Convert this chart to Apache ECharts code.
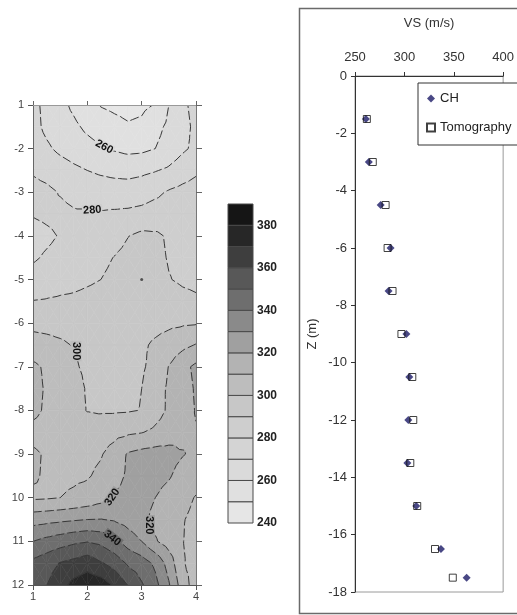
<!DOCTYPE html>
<html><head><meta charset="utf-8">
<script src="https://cdn.jsdelivr.net/npm/echarts@6/dist/echarts.min.js"></script>
<style>html,body{margin:0;padding:0;background:#fff}#c{width:517px;height:615px}</style>
</head><body><div id="c"></div>
<script>
// ---------- contour map data (VS in m/s on an x / depth grid) ----------
const gridX = [1, 1.25, 1.5, 1.75, 2, 2.25, 2.5, 2.75, 3, 3.25, 3.5, 3.75, 4];
const gridY = [-1, -1.5, -2, -2.5, -3, -3.5, -4, -4.5, -5, -5.5, -6, -6.5, -7, -7.5, -8, -8.5, -9, -9.5, -10, -10.5, -11, -11.5, -12];
const vsGrid = [
 [272, 268, 263, 258, 253, 249.5, 248, 247, 248, 250.5, 260, 268, 273],
 [273, 268, 265, 262, 258, 255, 253, 251, 252, 257, 262, 267, 272],
 [275, 271.5, 268, 265.5, 263.5, 261, 259, 257.5, 258, 260, 264, 268.5, 272],
 [279, 277, 274.5, 272, 270, 268.5, 267.5, 267, 268, 269.5, 271.5, 275, 278.5],
 [283, 282, 279.5, 277.5, 276, 275, 274.5, 274.5, 275.5, 278, 281, 283, 284],
 [280.5, 281.5, 282, 281, 281, 281, 281.5, 282, 283, 284.5, 285, 286, 287],
 [277, 278.5, 280.5, 282, 283, 284.5, 286.5, 289.8, 292, 291.5, 289, 288, 288],
 [279, 281, 282.5, 284, 286, 288, 290.3, 292.5, 293.5, 292, 289.5, 288.5, 288.5],
 [283, 284.5, 286, 287, 288.5, 290, 292, 293.5, 294, 293, 290.3, 289, 288.5],
 [290.3, 290.8, 291.5, 292, 293, 294, 294.5, 295, 295, 294.5, 293.5, 292, 291],
 [297.5, 297, 296.5, 296, 295.5, 295.5, 295.5, 295.5, 296, 297, 298, 298.8, 299.3],
 [304, 303, 301.5, 299.5, 298, 297, 296.5, 297, 298.5, 301.5, 304.5, 307.5, 310.5],
 [312, 308.5, 305, 301, 298.5, 297.5, 297, 297.5, 298.8, 303, 310.3, 317, 322],
 [313, 309, 306.5, 303, 299.3, 297.5, 297, 298, 300, 305.5, 311.5, 316, 321],
 [312.5, 308.5, 305.5, 302.5, 299.7, 299, 299, 299.3, 300.3, 306, 311.5, 316, 320.5],
 [307, 306, 305, 304.5, 304.5, 305.5, 307, 308.5, 309.6, 312, 315, 317.5, 319.5],
 [311.5, 309, 307.5, 307, 307.5, 309.3, 314, 321, 323, 324, 323.5, 320.6, 318],
 [311, 309, 308, 308.5, 309.2, 312, 316.5, 321.5, 323.5, 323.5, 321, 316, 313.5],
 [308.5, 309, 310, 311.5, 313.5, 316.5, 321, 323, 323, 320, 316, 312.5, 309.5],
 [326, 327, 328, 329, 330, 330.3, 329, 326, 322.5, 317.5, 314, 310.5, 308],
 [340, 343, 345.5, 348, 349.5, 347.5, 342.5, 335.5, 330, 321, 315.5, 310.3, 307],
 [352.5, 356, 360.5, 363, 366, 361, 356, 348.5, 345, 338, 326, 311, 306],
 [355, 359.8, 366, 373, 376, 375, 368.5, 359.5, 351, 343, 331, 315, 305]
];
const levels = [240, 250, 260, 270, 280, 290, 300, 310, 320, 330, 340, 350, 360, 370, 380, 390];
const bandColors = ['#e6e6e6','#e0e0e0','#dadada','#d4d4d4','#cecece','#c7c7c7','#bdbdbd','#b3b3b3','#a0a0a0','#8a8a8a','#6e6e6e','#585858','#3e3e3e','#272727','#151515'];
const yTickValues = [-1, -2, -3, -4, -5, -6, -7, -8, -9, -10, -11, -12];
const yTickText = ['1', '-2', '-3', '-4', '-5', '-6', '-7', '-8', '-9', '10', '11', '12'];
// contour labels: level, x, depth, rotation (deg)
const labelLevel = [260, 280, 300, 320, 320, 340];
const labelX = [2.31, 2.09, 1.79, 2.46, 3.14, 2.46];
const labelY = [-1.96, -3.41, -6.64, -9.99, -10.63, -10.93];
const labelRot = [-28, 4, -90, 55, -90, -38];
const sampleDot = [[3, -5]];

// ---------- profile data ----------
const depth = [-1.5, -3, -4.5, -6, -7.5, -9, -10.5, -12, -13.5, -15, -16.5, -17.5];
const vsCH = [261, 264, 276, 286, 284, 302, 305, 304, 303, 312, 337, 363];
const vsTomo = [262, 268, 281, 283, 288, 297, 308, 309, 306, 313, 331, 349];

// ---------- contouring (triangulated grid) ----------
const nx = gridX.length, ny = gridY.length;
const pts = [];
for (let j = 0; j < ny; j++) for (let i = 0; i < nx; i++) pts.push([gridX[i], gridY[j], vsGrid[j][i]]);
const tris = [];
for (let j = 0; j < ny - 1; j++) for (let i = 0; i < nx - 1; i++) {
  const a = j * nx + i, b = a + 1, d = a + nx, c = d + 1;
  const m = pts.length;
  pts.push([(gridX[i] + gridX[i + 1]) / 2, (gridY[j] + gridY[j + 1]) / 2,
    (pts[a][2] + pts[b][2] + pts[c][2] + pts[d][2]) / 4]);
  tris.push([a, b, m], [b, c, m], [c, d, m], [d, a, m]);
}
function lerpPt(p, q, L) { const t = (L - p[2]) / (q[2] - p[2]); return [p[0] + t * (q[0] - p[0]), p[1] + t * (q[1] - p[1]), L]; }
function clipPoly(poly, L, above) {
  const out = [], n = poly.length;
  for (let k = 0; k < n; k++) {
    const cur = poly[k], prev = poly[(k + n - 1) % n];
    const ci = above ? cur[2] >= L : cur[2] <= L;
    const pi = above ? prev[2] >= L : prev[2] <= L;
    if (ci) { if (!pi) out.push(lerpPt(prev, cur, L)); out.push(cur); }
    else if (pi) out.push(lerpPt(prev, cur, L));
  }
  return out;
}
const bandPolys = [];
tris.forEach(t => {
  const tri = t.map(k => pts[k]);
  const vals = tri.map(p => p[2]);
  const vmin = Math.min(...vals), vmax = Math.max(...vals);
  for (let b = 0; b < levels.length - 1; b++) {
    const lo = levels[b], hi = levels[b + 1];
    if (vmax < lo || vmin > hi) continue;
    let poly = clipPoly(tri, lo, true); if (poly.length < 3) continue;
    poly = clipPoly(poly, hi, false); if (poly.length < 3) continue;
    bandPolys.push({ band: b, pts: poly });
  }
});
const contourPaths = [];
levels.slice(1, -1).forEach(L => {
  const segs = [];
  tris.forEach(t => {
    const cr = [];
    for (let e = 0; e < 3; e++) {
      const ia = t[e], ib = t[(e + 1) % 3];
      const p = pts[ia], q = pts[ib];
      if ((p[2] >= L) !== (q[2] >= L)) cr.push({ key: Math.min(ia, ib) + '_' + Math.max(ia, ib), pt: lerpPt(p, q, L) });
    }
    if (cr.length === 2) segs.push(cr);
  });
  const byKey = {};
  segs.forEach((s, idx) => s.forEach(c => { (byKey[c.key] = byKey[c.key] || []).push(idx); }));
  const used = new Array(segs.length).fill(false);
  function extend(line, key) {
    let k = key;
    for (;;) {
      const cand = (byKey[k] || []).filter(i => !used[i]);
      if (!cand.length) break;
      const si = cand[0]; used[si] = true;
      const s = segs[si];
      const other = s[0].key === k ? s[1] : s[0];
      line.push(other.pt); k = other.key;
    }
  }
  for (let i = 0; i < segs.length; i++) {
    if (used[i]) continue;
    used[i] = true;
    const s = segs[i];
    const fwd = [s[0].pt, s[1].pt]; extend(fwd, s[1].key);
    const back = []; extend(back, s[0].key);
    contourPaths.push({ level: L, pts: back.reverse().concat(fwd) });
  }
});

const FONT = 'Liberation Sans, Arial, sans-serif';
const chart = echarts.init(document.getElementById('c'), null, { renderer: 'canvas' });
chart.setOption({
  animation: false,
  backgroundColor: '#fff',
  textStyle: { fontFamily: FONT },
  grid: [
    { left: 33, top: 105, width: 163, height: 480 },
    { left: 228, top: 204, width: 25, height: 319 },
    { left: 355, top: 76, width: 153, height: 516, show: true, borderColor: '#9a9a9a', borderWidth: 1, backgroundColor: 'transparent' }
  ],
  xAxis: [
    { gridIndex: 0, type: 'value', min: 1, max: 4, interval: 1, position: 'bottom', z: 10,
      axisLine: { onZero: false, lineStyle: { color: '#555' } },
      axisTick: { length: 5, lineStyle: { color: '#555' } },
      axisLabel: { fontSize: 11, color: '#444', margin: 6 }, splitLine: { show: false } },
    { gridIndex: 0, type: 'value', min: 1, max: 4, interval: 1, position: 'top', z: 10,
      axisLine: { onZero: false, lineStyle: { color: '#999' } },
      axisTick: { length: 4, lineStyle: { color: '#666' } },
      axisLabel: { show: false }, splitLine: { show: false } },
    { gridIndex: 1, type: 'value', min: 0, max: 1, show: false },
    { gridIndex: 2, type: 'value', min: 250, max: 400, interval: 50, position: 'top', z: 10,
      name: 'VS (m/s)', nameLocation: 'middle', nameGap: 46,
      nameTextStyle: { fontSize: 13, color: '#333', fontFamily: FONT },
      axisLine: { onZero: false, lineStyle: { color: '#333' } },
      axisTick: { length: 4, lineStyle: { color: '#333' } },
      axisLabel: { fontSize: 13, color: '#333', margin: 12 }, splitLine: { show: false } }
  ],
  yAxis: [
    { gridIndex: 0, type: 'value', min: -12, max: -1, interval: 1, position: 'left', z: 10,
      axisLine: { onZero: false, lineStyle: { color: '#666' } },
      axisTick: { length: 5, lineStyle: { color: '#555' } },
      axisLabel: { fontSize: 11, color: '#444', margin: 9,
        formatter: v => { const k = yTickValues.indexOf(v); return k < 0 ? '' : yTickText[k]; } },
      splitLine: { show: false } },
    { gridIndex: 0, type: 'value', min: -12, max: -1, interval: 1, position: 'right', z: 10,
      axisLine: { onZero: false, lineStyle: { color: '#777' } },
      axisTick: { length: 6, lineStyle: { color: '#666' } },
      axisLabel: { show: false }, splitLine: { show: false } },
    { gridIndex: 1, type: 'value', min: 240, max: 390, interval: 20, position: 'right',
      axisLine: { show: false }, axisTick: { show: false }, splitLine: { show: false },
      axisLabel: { fontSize: 12, fontWeight: 'bold', color: '#222', margin: 4,
        formatter: v => (v > 380 ? '' : String(v)) } },
    { gridIndex: 2, type: 'value', min: -18, max: 0, interval: 2, position: 'left', z: 10,
      name: 'Z (m)', nameLocation: 'middle', nameGap: 36,
      nameTextStyle: { fontSize: 13, color: '#333', fontFamily: FONT },
      axisLine: { onZero: false, lineStyle: { color: '#333' } },
      axisTick: { length: 4, lineStyle: { color: '#333' } },
      axisLabel: { fontSize: 13, color: '#333', margin: 8 }, splitLine: { show: false } }
  ],
  legend: {
    left: 418, top: 83, orient: 'vertical', itemWidth: 8, itemHeight: 8, itemGap: 16,
    padding: [9, 8, 11, 8], borderColor: '#333', borderWidth: 1, backgroundColor: '#fff',
    textStyle: { fontSize: 13, color: '#222', fontFamily: FONT },
    data: [{ name: 'CH', icon: 'diamond' }, { name: 'Tomography', icon: 'rect' }]
  },
  graphic: [
    { type: 'rect', silent: true, z: 100, shape: { x: 299.5, y: 8.5, width: 240, height: 605 },
      style: { fill: null, stroke: '#6a6a6a', lineWidth: 1.5 } }
  ],
  series: [
    { type: 'custom', name: 'fill', xAxisIndex: 0, yAxisIndex: 0, silent: true, clip: true, z: 1,
      encode: { x: 0, y: 1 },
      data: bandPolys.map((p, k) => [p.pts[0][0], p.pts[0][1], k]),
      renderItem: (params, api) => {
        const bp = bandPolys[api.value(2)];
        const c = bandColors[bp.band];
        return { type: 'polygon', shape: { points: bp.pts.map(p => api.coord([p[0], p[1]])) },
          style: { fill: c, stroke: c, lineWidth: 0.6 } };
      } },
    { type: 'custom', name: 'lines', xAxisIndex: 0, yAxisIndex: 0, silent: true, clip: true, z: 2,
      encode: { x: 0, y: 1 },
      data: contourPaths.map((c, k) => [c.pts[0][0], c.pts[0][1], k]),
      renderItem: (params, api) => {
        const cp = contourPaths[api.value(2)];
        return { type: 'polyline', shape: { points: cp.pts.map(p => api.coord([p[0], p[1]])) },
          style: { stroke: '#383838', lineWidth: 1, fill: null, lineDash: [9, 3] } };
      } },
    { type: 'custom', name: 'labels', xAxisIndex: 0, yAxisIndex: 0, silent: true, z: 3,
      encode: { x: 0, y: 1 },
      data: labelLevel.map((v, k) => [labelX[k], labelY[k], k]),
      renderItem: (params, api) => {
        const k = api.value(2);
        const p = api.coord([labelX[k], labelY[k]]);
        const b = levels.indexOf(labelLevel[k]);
        return { type: 'text', x: p[0], y: p[1], rotation: labelRot[k] * Math.PI / 180,
          style: { text: String(labelLevel[k]), font: 'bold 11px ' + FONT, fill: '#111',
            align: 'center', verticalAlign: 'middle', backgroundColor: bandColors[b], padding: [0, 1] } };
      } },
    { type: 'scatter', name: 'dot', xAxisIndex: 0, yAxisIndex: 0, symbolSize: 3, z: 4, silent: true,
      itemStyle: { color: '#333' }, data: sampleDot },
    { type: 'custom', name: 'colorbar', xAxisIndex: 2, yAxisIndex: 2, silent: true,
      encode: { x: 0, y: 1 },
      data: bandColors.map((c, b) => [0.5, (levels[b] + levels[b + 1]) / 2, b]),
      renderItem: (params, api) => {
        const b = api.value(2);
        const p0 = api.coord([0, levels[b]]), p1 = api.coord([1, levels[b + 1]]);
        return { type: 'rect', shape: { x: p0[0], y: p1[1], width: p1[0] - p0[0], height: p0[1] - p1[1] },
          style: { fill: bandColors[b], stroke: '#4a4a4a', lineWidth: 1 } };
      } },
    { type: 'scatter', name: 'CH', xAxisIndex: 3, yAxisIndex: 3, symbol: 'diamond', symbolSize: 8, z: 3,
      itemStyle: { color: '#1c1a66' },
      data: vsCH.map((v, i) => [v, depth[i]]) },
    { type: 'scatter', name: 'Tomography', xAxisIndex: 3, yAxisIndex: 3, symbol: 'rect', symbolSize: 7, z: 4,
      itemStyle: { color: 'rgba(255,255,255,0)', borderColor: '#111', borderWidth: 1 },
      data: vsTomo.map((v, i) => [v, depth[i]]) }
  ]
});
</script></body></html>
